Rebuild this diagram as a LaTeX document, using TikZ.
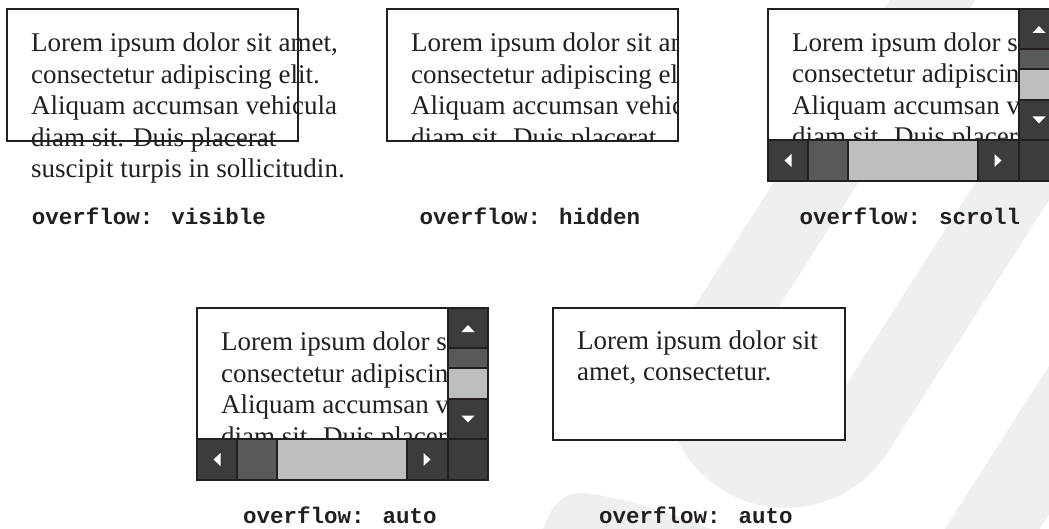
\documentclass[tikz,border=0pt]{standalone}
\usepackage{fontspec}
\setmainfont{Liberation Serif}
\newfontfamily\codefont{Liberation Mono}
\definecolor{ink}{HTML}{231F20}
\definecolor{wm}{HTML}{EEEFEF}
\definecolor{btn}{HTML}{3C3C3E}
\definecolor{trk}{HTML}{58595B}
\definecolor{thm}{HTML}{BCBEC0}
\tikzset{
  body/.style={anchor=base west, inner sep=0pt, text=ink, font=\fontsize{27}{31.5}\selectfont},
  lbl/.style={anchor=base, inner sep=0pt, text=ink, font=\codefont\bfseries\fontsize{22.5}{26}\selectfont},
  frame/.style={draw=ink, line width=1.6pt},
  sep/.style={draw=ink, line width=1.2pt},
}
\newcommand\loremlines[3]{%
  \foreach \t [count=\i from 0] in {{Lorem ipsum dolor sit amet,},{consectetur adipiscing elit.},{Aliquam accumsan vehicula},{diam sit. Duis placerat},{suscipit turpis in sollicitudin.}}
    {\node[body] (#3\i) at (#1, {#2+31.5*\i}) {\t};}
}
\newcommand\scrollbox[3]{%
\begin{scope}[shift={(#1,#2)}]
  \fill[white] (0,0) rectangle (291,172);
  \begin{scope}
    \clip (0,0) rectangle (251,131);
    \loremlines{24}{42.5}{#3}
  \end{scope}
  \fill[btn] (251,0) rectangle (291,40);
  \fill[trk] (251,40) rectangle (291,60);
  \fill[thm] (251,60) rectangle (291,91);
  \fill[btn] (251,91) rectangle (291,131);
  \fill[btn] (0,131) rectangle (40,172);
  \fill[trk] (40,131) rectangle (80,172);
  \fill[thm] (80,131) rectangle (210,172);
  \fill[btn] (210,131) rectangle (251,172);
  \fill[btn] (251,131) rectangle (291,172);
  \draw[sep] (251,0) -- (251,172);
  \draw[sep] (0,131) -- (291,131);
  \draw[sep] (251,40) -- (291,40) (251,60) -- (291,60) (251,91) -- (291,91);
  \draw[sep] (40,131) -- (40,172) (80,131) -- (80,172) (210,131) -- (210,172);
  \fill[white] (264.5,24) -- (277.5,24) -- (271,17) -- cycle;
  \fill[white] (264.5,107.5) -- (277.5,107.5) -- (271,114.5) -- cycle;
  \fill[white] (16.5,151.5) -- (23.5,145) -- (23.5,158) -- cycle;
  \fill[white] (233.5,151.5) -- (226.5,145) -- (226.5,158) -- cycle;
  \draw[frame] (0,0) rectangle (291,172);
\end{scope}}

\begin{document}
\begin{tikzpicture}[x=1pt,y=-1pt]
\useasboundingbox (0,0) rectangle (1049,529);
\begin{scope}
  \clip (0,0) rectangle (1049,529);
  \fill[wm] (903,-20) -- (684.2,322.1)
     -- plot[domain=212.6:32.6, samples=50] ({785.9+120.8*cos(\x)},{387.2+120.8*sin(\x)})
     -- (1190,-20) -- (1105,-20) -- (827.4,413.8)
     -- plot[domain=32.6:212.6, samples=40] ({785.9+49.3*cos(\x)},{387.2+49.3*sin(\x)})
     -- (988,-20) -- cycle;
  \fill[wm] (1091.2,300) -- (937.6,540) -- (1032.6,540) -- (1186.2,300) -- cycle;
  \fill[wm] (541,535) .. controls (552,500) and (566,492) .. (585,493)
     .. controls (620,497) and (680,515) .. (725,535) -- cycle;
\end{scope}

% overflow: visible
\fill[white] (7,9) rectangle (298,141);
\loremlines{31}{52}{v}
\draw[frame] (7,9) rectangle (298,141);

% overflow: hidden
\fill[white] (387,9) rectangle (678,141);
\begin{scope}
  \clip (387,9) rectangle (678,141);
  \loremlines{411}{52}{h}
\end{scope}
\draw[frame] (387,9) rectangle (678,141);

% overflow: scroll
\scrollbox{768}{9}{s}

% overflow: auto (long)
\scrollbox{197}{308}{a}

% overflow: auto (short)
\fill[white] (553,308) rectangle (845,440);
\node[body] (b1) at (577,349) {Lorem ipsum dolor sit};
\node[body] (b2) at (577,380.5) {amet, consectetur.};
\draw[frame] (553,308) rectangle (845,440);

\node[lbl] (l1) at (149,225) {overflow: visible};
\node[lbl] (l2) at (530,225) {overflow: hidden};
\node[lbl] (l3) at (910,225) {overflow: scroll};
\node[lbl] (l4) at (340,523) {overflow: auto};
\node[lbl] (l5) at (696,523) {overflow: auto};
\end{tikzpicture}
\end{document}
